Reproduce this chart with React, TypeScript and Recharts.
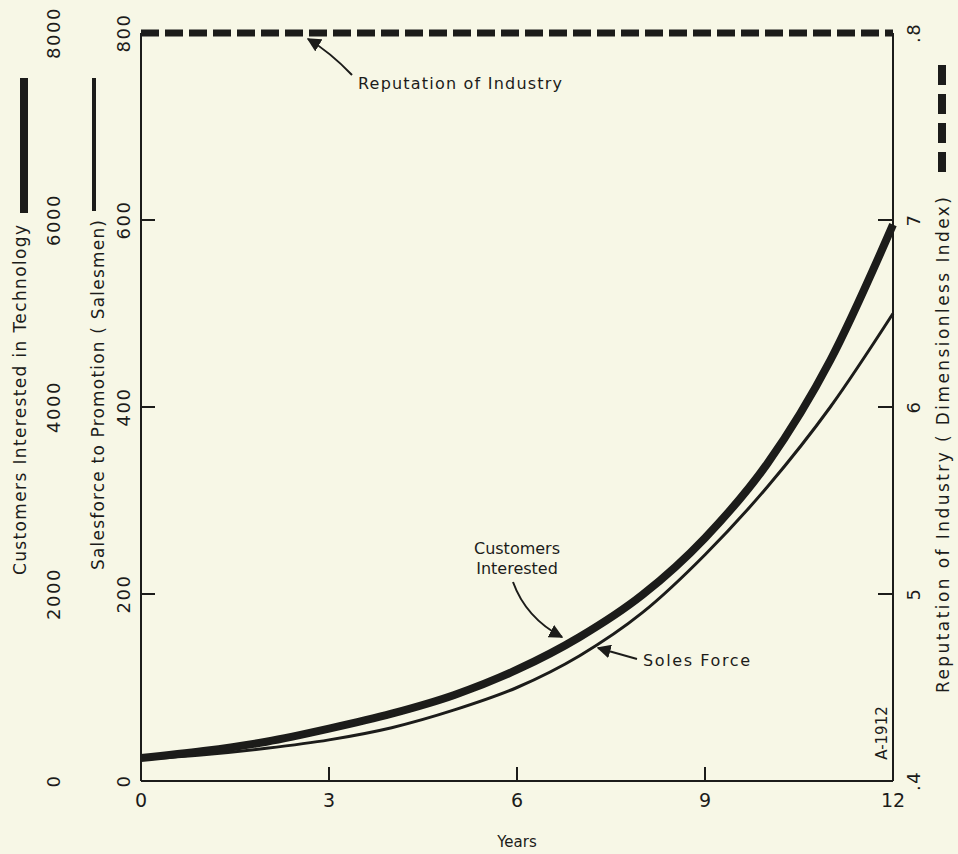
import { ComposedChart, Line, XAxis, YAxis } from "recharts";

const years = [0, 1, 2, 3, 4, 5, 6, 7, 8, 9, 10, 11, 12];
const customersInterested = [245, 320, 420, 560, 720, 920, 1190, 1540, 1990, 2600, 3400, 4500, 5950];
const salesForce = [23, 28, 35, 44, 57, 76, 100, 134, 180, 242, 315, 400, 500];
const reputation = [0.8, 0.8, 0.8, 0.8, 0.8, 0.8, 0.8, 0.8, 0.8, 0.8, 0.8, 0.8, 0.8];

const yearTicks = [0, 3, 6, 9, 12];
const salesTicks = [0, 200, 400, 600, 800];
const customerTicks = [0, 2000, 4000, 6000, 8000];
const reputationTicks = [0.4, 0.5, 0.6, 0.7, 0.8];
const reputationLabels = [".4", "5", "6", "7", ".8"];

const data = years.map((year, i) => ({
    year,
    customers: customersInterested[i],
    sales: salesForce[i],
    reputation: reputation[i],
}));

const INK = "#1c1c1a";
const PAPER = "#f7f7e6";
const FONT = "'DejaVu Sans', sans-serif";

const RotText = ({ x, y, children, size = 18 }: any) => (
    <text x={x} y={y} transform={`rotate(-90 ${x} ${y})`} textAnchor="middle" dominantBaseline="central"
        fontFamily={FONT} fontSize={size} fill={INK} letterSpacing={1.5}>{children}</text>
);

const SalesTick = (props: any) => {
    const { x, y, payload } = props;
    const v = payload.value;
    return (
        <g>
            {v !== 0 && v !== 800 && <line x1={x} x2={x + 14} y1={y} y2={y} stroke={INK} strokeWidth={2} />}
            <RotText x={x - 18} y={y}>{v}</RotText>
        </g>
    );
};

const CustomerTick = (props: any) => {
    const { x, y, payload } = props;
    return <RotText x={x - 18} y={y}>{payload.value}</RotText>;
};

const ReputationTick = (props: any) => {
    const { x, y, payload, index } = props;
    const v = payload.value;
    return (
        <g>
            {index !== 0 && index !== 4 && <line x1={x - 15} x2={x} y1={y} y2={y} stroke={INK} strokeWidth={2} />}
            <RotText x={x + 20} y={y}>{reputationLabels[reputationTicks.indexOf(v)] ?? v}</RotText>
        </g>
    );
};

const YearTick = (props: any) => {
    const { x, y, payload } = props;
    const v = payload.value;
    return (
        <g>
            {v !== 0 && v !== 12 && <line x1={x} x2={x} y1={y - 14} y2={y} stroke={INK} strokeWidth={2} />}
            <text x={x} y={y + 19} textAnchor="middle" dominantBaseline="central" fontFamily={FONT} fontSize={19} fill={INK}>{v}</text>
        </g>
    );
};

const Overlay = () => (
    <svg width={958} height={854} style={{ position: "absolute", left: 0, top: 0, pointerEvents: "none" }}>
        <defs>
            <marker id="head" viewBox="0 0 10 10" refX="9" refY="5" markerWidth="7" markerHeight="7" orient="auto-start-reverse">
                <path d="M0,0 L10,5 L0,10 z" fill={INK} />
            </marker>
        </defs>
        {/* axis titles with legend swatches */}
        <text x={20} y={400} transform="rotate(-90 20 400)" textAnchor="middle" dominantBaseline="central"
            fontFamily={FONT} fontSize={17} fill={INK} textLength={350} lengthAdjust="spacing">Customers Interested in Technology</text>
        <line x1={24} x2={24} y1={78} y2={213} stroke={INK} strokeWidth={8} />
        <text x={98} y={395} transform="rotate(-90 98 395)" textAnchor="middle" dominantBaseline="central"
            fontFamily={FONT} fontSize={17} fill={INK} textLength={350} lengthAdjust="spacing">Salesforce to Promotion ( Salesmen)</text>
        <line x1={94} x2={94} y1={78} y2={211} stroke={INK} strokeWidth={4} />
        <text x={943} y={445} transform="rotate(-90 943 445)" textAnchor="middle" dominantBaseline="central"
            fontFamily={FONT} fontSize={17} fill={INK} textLength={496} lengthAdjust="spacing">Reputation of Industry ( Dimensionless Index)</text>
        <line x1={942} x2={942} y1={65} y2={176} stroke={INK} strokeWidth={8} strokeDasharray="20 9" />
        <text x={517} y={842} textAnchor="middle" dominantBaseline="central" fontFamily={FONT} fontSize={15} fill={INK}>Years</text>
        <text x={882} y={733} transform="rotate(-90 882 733)" textAnchor="middle" dominantBaseline="central"
            fontFamily={FONT} fontSize={15} fill={INK}>A-1912</text>
        {/* annotations */}
        <text x={460} y={83} dominantBaseline="central" textAnchor="middle" fontFamily={FONT} fontSize={16} fill={INK}
            textLength={204} lengthAdjust="spacing">Reputation of Industry</text>
        <path d="M352,75 Q330,52 308,39" fill="none" stroke={INK} strokeWidth={2} markerEnd="url(#head)" />
        <text x={517} y={548} textAnchor="middle" dominantBaseline="central" fontFamily={FONT} fontSize={16} fill={INK}>Customers</text>
        <text x={517} y={568} textAnchor="middle" dominantBaseline="central" fontFamily={FONT} fontSize={16} fill={INK}>Interested</text>
        <path d="M513,582 Q526,618 562,637" fill="none" stroke={INK} strokeWidth={2} markerEnd="url(#head)" />
        <text x={643} y={660} dominantBaseline="central" fontFamily={FONT} fontSize={16} fill={INK}
            textLength={107} lengthAdjust="spacing">Soles Force</text>
        <path d="M637,659 L598,648" fill="none" stroke={INK} strokeWidth={2} markerEnd="url(#head)" />
    </svg>
);

export default function App() {
    return (
        <div style={{ position: "absolute", left: 0, top: 0, width: 958, height: 854, background: PAPER }}>
            <ComposedChart width={958} height={854} data={data} margin={{ top: 33, right: 5, bottom: 43, left: 0 }}>
                <XAxis dataKey="year" type="number" domain={[0, 12]} ticks={yearTicks} height={30}
                    axisLine={{ stroke: INK, strokeWidth: 2 }} tickLine={false} tickSize={0} tickMargin={0} tick={<YearTick />} />
                <YAxis yAxisId="a_sales" orientation="left" domain={[0, 800]} ticks={salesTicks} width={70}
                    axisLine={{ stroke: INK, strokeWidth: 2 }} tickLine={false} tickSize={0} tickMargin={0} tick={<SalesTick />} />
                <YAxis yAxisId="b_customers" orientation="left" domain={[0, 8000]} ticks={customerTicks} width={71}
                    axisLine={false} tickLine={false} tickSize={0} tickMargin={0} tick={<CustomerTick />} />
                <YAxis yAxisId="rep" orientation="right" domain={[0.4, 0.8]} ticks={reputationTicks} width={60}
                    axisLine={{ stroke: INK, strokeWidth: 2 }} tickLine={false} tickSize={0} tickMargin={0} tick={<ReputationTick />} />
                <Line yAxisId="rep" dataKey="reputation" type="linear" stroke={INK} strokeWidth={7}
                    strokeDasharray="18 6" dot={false} isAnimationActive={false} />
                <Line yAxisId="b_customers" dataKey="customers" type="monotone" stroke={INK} strokeWidth={8}
                    dot={false} isAnimationActive={false} />
                <Line yAxisId="a_sales" dataKey="sales" type="monotone" stroke={INK} strokeWidth={3}
                    dot={false} isAnimationActive={false} />
            </ComposedChart>
            <Overlay />
        </div>
    );
}
